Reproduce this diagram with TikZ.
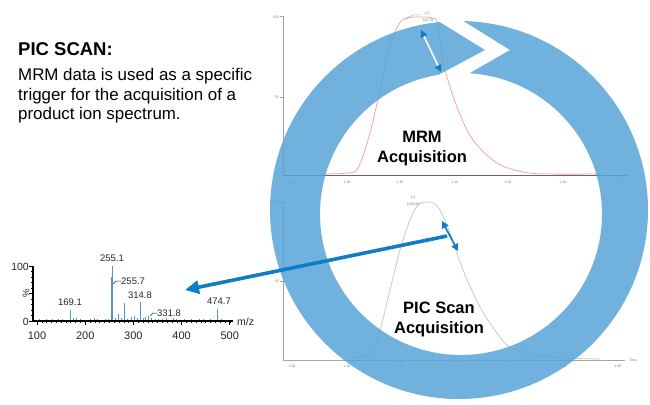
\documentclass[tikz,border=0pt]{standalone}
\usepackage{fontspec}
\setmainfont{Liberation Sans}
\usetikzlibrary{arrows.meta}
\definecolor{ringblue}{RGB}{87,164,216}
\definecolor{arrowblue}{RGB}{14,125,198}
\definecolor{specblue}{RGB}{84,148,212}
\definecolor{mrmred}{RGB}{236,168,168}
\definecolor{picgray}{RGB}{200,200,200}
\definecolor{axgray}{RGB}{160,160,160}
\definecolor{txtdark}{RGB}{40,40,40}
\begin{document}
\begin{tikzpicture}[x=1pt,y=-1pt,
  tinylbl/.style={font=\fontsize{3.5}{4}\selectfont, text=gray, inner sep=0},
  speclbl/.style={font=\fontsize{9.5}{10}\selectfont, text=txtdark, inner sep=0},
  bigtxt/.style={font=\bfseries\fontsize{16.5}{18}\selectfont, inner sep=0, anchor=base},
  bodytxt/.style={font=\fontsize{16.9}{20}\selectfont, inner sep=0, anchor=base west},
  ]
\useasboundingbox (0,0) rectangle (650,404);
\fill[white] (0,0) rectangle (650,404);

% ---------- left text ----------
\node[font=\bfseries\fontsize{18.5}{20}\selectfont, inner sep=0, anchor=base west] (title) at (18,56) {PIC SCAN:};
\node[bodytxt] (d1) at (18,81) {MRM data is used as a specific};
\node[bodytxt] (d2) at (18,100) {trigger for the acquisition of a};
\node[bodytxt] (d3) at (18,119) {product ion spectrum.};

% ---------- top chromatogram (MRM) ----------
\draw[axgray, line width=1] (280,17) -- (283,17) -- (283,175);
\draw[axgray, line width=0.6] (280,97) -- (283,97);
\draw[gray!80!black, line width=0.8] (283,175) -- (627,175);
\foreach \x/\t [count=\i] in {292/1.10,347/1.20,400/1.30,455/1.40,508/1.50,563/1.60,618/1.70}
  \node[tinylbl] (ta\i) at (\x,182) {\t};
\node[tinylbl, anchor=east] (tya) at (279,17) {100};
\node[tinylbl, anchor=east] (tyb) at (279,97) {50};
\draw[mrmred, line width=0.8] plot[smooth, tension=0.55] coordinates {
  (323,174) (347,173) (358,168) (370,133) (380,90) (390,45) (399,24) (406,18)
  (420,17) (432,18) (438,24) (443,62) (457,107) (473,140) (497,163) (523,172) (547,174) (600,174)};
\draw[mrmred!80!gray, line width=0.5] (406,19) -- (413,15) -- (421,15);
\node[tinylbl] (tpk1) at (427,13) {1.5};
\node[tinylbl] (tpk2) at (428,20) {382.78};

% ---------- bottom chromatogram (PIC) ----------
\draw[axgray, line width=1] (280,202) -- (283,202) -- (283,360);
\draw[axgray, line width=0.6] (280,281) -- (283,281);
\draw[gray!70, line width=0.8] (283,360) -- (625,360);
\foreach \x/\t [count=\i] in {292/1.00,347/1.10,400/1.20,455/1.30,510/1.40,563/1.50,618/1.60}
  \node[tinylbl] (tb\i) at (\x,366) {\t};
\node[tinylbl, anchor=west] (ttime) at (629,360) {Time};
\node[tinylbl, anchor=east] (tyc) at (279,202) {100};
\node[tinylbl, anchor=east] (tyd) at (279,281) {50};
\draw[picgray, line width=0.8] plot[smooth, tension=0.55] coordinates {
  (350,358) (370,353) (380,330) (390,290) (400,250) (410,220) (418,205) (427,202)
  (433,203) (440,210) (450,233) (463,270) (480,307) (497,333) (510,347) (537,355) (563,358) (600,359)};
\node[tinylbl] (tpk3) at (413,197) {1.6};
\node[tinylbl] (tpk4) at (413,204) {1129.80};

% ---------- big circular arrow ----------
\begin{scope}[even odd rule]
  \clip (0,0) rectangle (650,404)
     (412,5) -- (485,50) -- (395,98) -- (430,96) -- (510,50) -- (441,7) -- cycle;
  \fill[ringblue, fill opacity=0.85]
     (459,210) circle[radius=189] (461,214) circle[radius=141];
\end{scope}

\node[bigtxt] (mrm1) at (422,142) {MRM};
\node[bigtxt] (mrm2) at (422,162) {Acquisition};
\node[bigtxt] (pic1) at (439,313) {PIC Scan};
\node[bigtxt] (pic2) at (439,333) {Acquisition};

% ---------- small double arrows ----------
\coordinate (ta) at (421,30);
\coordinate (tb) at (441,72);
\draw[white, line width=1.6,
  {Triangle[color=arrowblue,length=7,width=7]}-{Triangle[color=arrowblue,length=7,width=7]}] (ta) -- (tb);
\coordinate (ba) at (442,221);
\coordinate (bb) at (458,251);
\coordinate (bm) at (447,236);
\draw[arrowblue, line width=1.6,
  {Triangle[length=7,width=7]}-{Triangle[length=7,width=7]}] (ba) -- (bb);

% ---------- big connector ----------
\coordinate (sp) at (185,290);
\draw[arrowblue, line width=3.6, -{Triangle[length=14,width=13]}] (bm) -- (sp);

% ---------- mass spectrum ----------
\begin{scope}[xshift=37pt, yshift=-321pt, x=0.482pt, y=0.55pt]
  \foreach \m/\h in {5/3,12/2,20/4,31/3,38/2,45/4,52/3,60/2,75/6,82/5,90/3,98/2,110/4,118/6,
     125/3,133/2,141/4,148/3,162/6,168/12,175/5,188/4,196/8,202/10,208/6,220/5,225/7,238/5,
     245/4,252/3,260/3,268/5,275/2,282/6,290/3,298/2,305/3,312/2,320/3,328/2,336/4,344/3,
     352/2,360/3,366/2,382/3,390/2,398/2}
     \draw[specblue, line width=0.6] (\m,0) -- (\m,\h);
  \draw[specblue, line width=0.9] (69.1,0) -- (69.1,20);
  \draw[specblue, line width=0.9] (155.5,0) -- (155.5,100);
  \draw[specblue, line width=1.3] (154.2,0) -- (154.2,80);
  \draw[specblue, line width=0.9] (181,0) -- (181,33);
  \draw[specblue, line width=0.9] (214.8,0) -- (214.8,35);
  \draw[specblue, line width=0.9] (231.8,0) -- (231.8,9);
  \draw[specblue, line width=0.9] (374.7,0) -- (374.7,22);
  \draw[black, line width=1.3] (-8.3,100) -- (-8.3,0) -- (407,0);
  \foreach \v in {0,10,...,100} \draw[black, line width=0.5] (-8.3,\v) -- (-13,\v);
  \foreach \v in {0,50,100} \draw[black, line width=0.7] (-8.3,\v) -- (-16,\v);
  \foreach \v in {0,10,...,400} \draw[black, line width=0.5] (\v,0) -- (\v,-4.5);
  \foreach \v in {0,100,...,400} \draw[black, line width=0.7] (\v,0) -- (\v,-8);
\end{scope}
\draw[txtdark, line width=0.5] (113,284) -- (116,281) -- (121,281);
\draw[txtdark, line width=0.5] (150,316) -- (153,313) -- (157,313);
\node[speclbl, anchor=base] (l1) at (112,261) {255.1};
\node[speclbl, anchor=base west] (l2) at (121,284.5) {255.7};
\node[speclbl, anchor=base] (l3) at (140,298) {314.8};
\node[speclbl, anchor=base] (l4) at (70,305) {169.1};
\node[speclbl, anchor=base west] (l5) at (157,316.5) {331.8};
\node[speclbl, anchor=base] (l6) at (219,304) {474.7};
\node[speclbl, font=\fontsize{10.5}{11}\selectfont, anchor=base east] (ly1) at (29,270) {100};
\node[speclbl, font=\fontsize{10.5}{11}\selectfont, anchor=base east] (ly2) at (29,325) {0};
\node[speclbl, rotate=90] (ly3) at (26,293.5) {\%};
\node[speclbl, font=\fontsize{10.5}{11}\selectfont, anchor=base west] (lmz) at (237,325) {m/z};
\foreach \x/\t [count=\i] in {37/100,85.2/200,133.4/300,181.6/400,229.8/500}
  \node[speclbl, font=\fontsize{11}{12}\selectfont, anchor=base] (lx\i) at (\x,339) {\t};
\end{tikzpicture}
\end{document}
